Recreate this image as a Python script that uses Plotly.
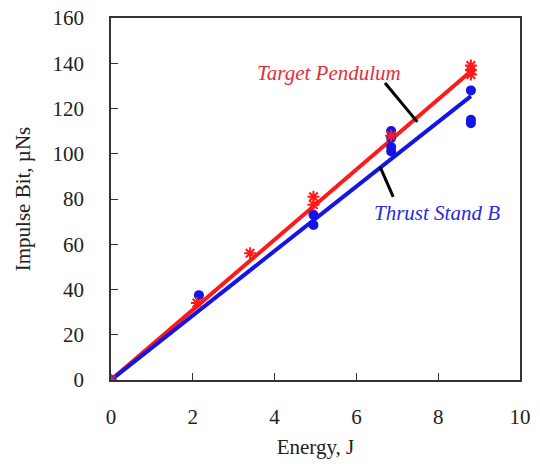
import plotly.graph_objects as go

# Data
pend_x = [0, 2.1, 3.4, 4.95, 4.95, 6.85, 8.8, 8.8, 8.8]
pend_y = [0, 34, 56, 77.5, 81, 108, 135, 137, 139]
stand_x = [0, 2.15, 4.95, 4.95, 6.85, 6.85, 6.85, 6.85, 8.8, 8.8, 8.8]
stand_y = [0, 37.5, 68.5, 73, 101, 103, 107, 110, 128, 115, 113.5]
fit_x = [0, 8.8]
pend_fit = [0, 136.5]
stand_fit = [0, 125.5]

x_ticks = [0, 2, 4, 6, 8, 10]
y_ticks = [0, 20, 40, 60, 80, 100, 120, 140, 160]

RED = "#ff1a1a"
BLUE = "#1414e6"
FONT = "Liberation Serif"

fig = go.Figure()
fig.add_trace(go.Scatter(x=fit_x, y=pend_fit, mode="lines",
                         line=dict(color=RED, width=4), showlegend=False))
fig.add_trace(go.Scatter(x=fit_x, y=stand_fit, mode="lines",
                         line=dict(color=BLUE, width=4), showlegend=False))
fig.add_trace(go.Scatter(x=stand_x, y=stand_y, mode="markers",
                         marker=dict(symbol="circle", size=10, color=BLUE),
                         showlegend=False))
fig.add_trace(go.Scatter(x=pend_x, y=pend_y, mode="markers",
                         marker=dict(symbol="asterisk-open", size=10, color=RED,
                                     line=dict(color=RED, width=2)),
                         showlegend=False))

fig.add_annotation(x=5.33, y=135.7, text="<i>Target Pendulum</i>", showarrow=False,
                   font=dict(family=FONT, size=21, color="#e0303a"))
fig.add_annotation(x=7.98, y=73.9, text="<i>Thrust Stand B</i>", showarrow=False,
                   font=dict(family=FONT, size=21, color="#2a2ae0"))
fig.add_shape(type="line", x0=6.70, y0=131.3, x1=7.49, y1=114.1,
              line=dict(color="black", width=3))
fig.add_shape(type="line", x0=6.58, y0=94.2, x1=6.90, y1=80.9,
              line=dict(color="black", width=3))

axis_common = dict(showgrid=False, zeroline=False, showline=True, linecolor="#333",
                   linewidth=1.5, mirror=True, ticks="inside", ticklen=7,
                   tickcolor="#333", automargin=False, ticklabeloverflow="allow",
                   tickfont=dict(family=FONT, size=21, color="#222"))

fig.update_xaxes(range=[0, 10], tickvals=x_ticks, ticklabelstandoff=17,
                 title=dict(text="Energy, J", font=dict(family=FONT, size=21, color="#222"),
                            standoff=11),
                 **axis_common)
fig.update_yaxes(range=[0, 160], tickvals=y_ticks, ticklabelstandoff=21,
                 title=dict(text="Impulse Bit, \u00b5Ns", font=dict(family=FONT, size=21, color="#222"),
                            standoff=16),
                 **axis_common)

fig.update_layout(width=540, height=464, margin=dict(l=111, r=20, t=18, b=84),
                  plot_bgcolor="white", paper_bgcolor="white", hovermode=False)

fig.write_html("out.html", config={"displayModeBar": False},
               post_script="document.body.style.margin='0';")
